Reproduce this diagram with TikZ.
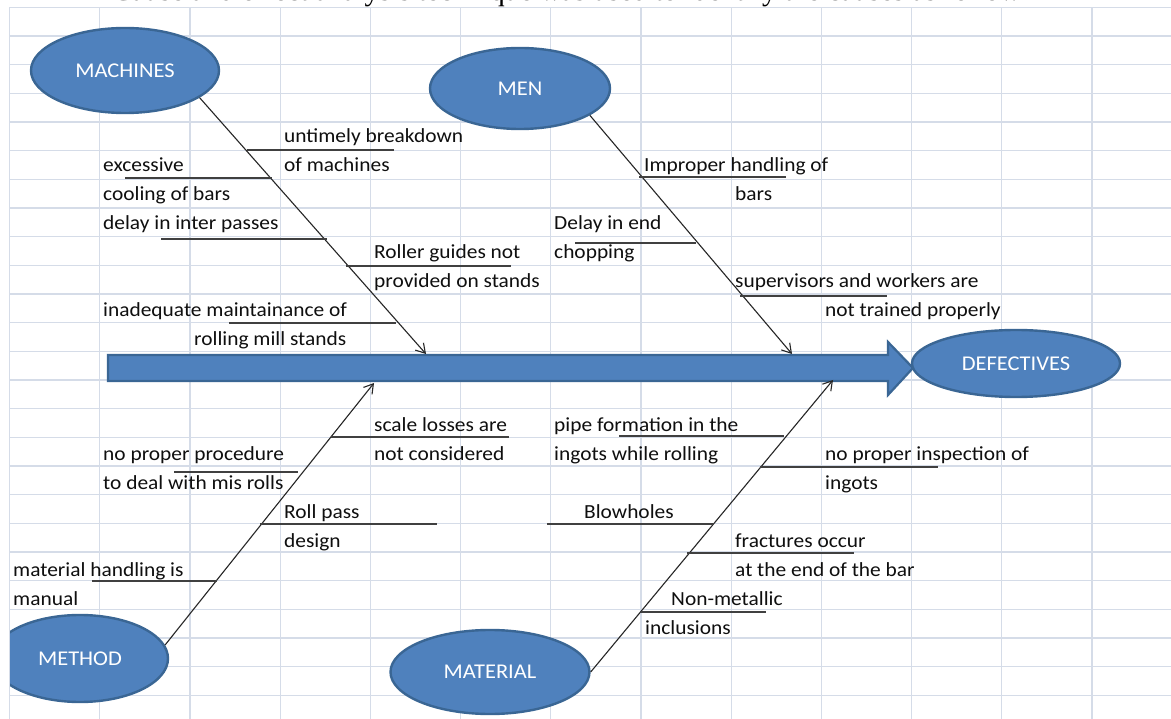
\documentclass[tikz,border=0pt]{standalone}
\usepackage{fontspec}
\usetikzlibrary{shapes.geometric,arrows.meta}
\newfontfamily\lab{Carlito}[FakeStretch=1.07]
\newfontfamily\tms{Liberation Serif}
\definecolor{gridc}{HTML}{D5DCE8}
\definecolor{fillb}{HTML}{4F81BD}
\definecolor{edgeb}{HTML}{3A6694}
\definecolor{branchc}{HTML}{404040}
\definecolor{spinec}{HTML}{262626}
\definecolor{txtc}{HTML}{0F0F0F}
\begin{document}
\begin{tikzpicture}[x=1pt,y=-1pt,
  cause/.style={ellipse,draw=edgeb,line width=2.4pt,fill=fillb,text=white,inner sep=0pt,font=\lab\fontsize{21}{25}\selectfont},
  lbl/.style={anchor=base west,inner sep=0pt,text=txtc,font=\lab\fontsize{20}{24}\selectfont},
  spine/.style={draw=spinec,line width=1.1pt,-{Straight Barb[length=9pt,width=11pt]}},
  branch/.style={draw=branchc,line width=1.5pt},
  gridl/.style={draw=gridc,line width=1.2pt}]
\useasboundingbox (0,0) rectangle (1171,719);
\fill[white] (0,0) rectangle (1171,719);
% spreadsheet grid
\foreach \i in {0,...,12} \draw[gridl] ({9.5+90.2*\i},7.3) -- ({9.5+90.2*\i},719);
\foreach \j in {0,...,24} \draw[gridl] (9.5,{7.3+28.67*\j}) -- (1171,{7.3+28.67*\j});
% cut-off heading (only its lowest part lies inside the picture)
\node[anchor=base west,inner sep=0pt,font=\tms\fontsize{29.5}{31}\selectfont] (title) at (112,0.8) {Cause and effect analysis technique was used to identify the causes as follow};
% main arrow
\coordinate (a1) at (108,355);
\coordinate (a2) at (888,355);
\coordinate (a3) at (888,342);
\coordinate (a4) at (913,368);
\coordinate (a5) at (888,395);
\coordinate (a6) at (888,381);
\coordinate (a7) at (108,381);
\draw[fill=fillb,draw=edgeb,line width=2.2pt,line join=miter] (a1) -- (a2) -- (a3) -- (a4) -- (a5) -- (a6) -- (a7) -- cycle;
% cause ellipses
\node[cause,minimum width=188pt,minimum height=85pt] (mach) at (125,70.5) {MACHINES};
\node[cause,minimum width=180pt,minimum height=81pt] (men) at (520,88.5) {MEN};
\node[cause,minimum width=208pt,minimum height=67pt] (def) at (1016,363.5) {DEFECTIVES};
\node[cause,minimum width=199pt,minimum height=84pt] (mat) at (490,672) {MATERIAL};
\begin{scope}
\clip (10,0) rectangle (1171,719);
\node[cause,minimum width=176pt,minimum height=87pt] (meth) at (80,658.5) {METHOD};
\end{scope}
% spine end points on the main arrow
\coordinate (tmach) at (426,354);
\coordinate (tmen) at (792,354);
\coordinate (tmeth) at (374,383);
\coordinate (tmat) at (833,380);
\draw[spine] (mach.-20) -- (tmach);
\draw[spine] (men.-21) -- (tmen);
\draw[spine] (meth.9) -- (tmeth);
\draw[spine] (mat.east) -- (tmat);
% branch lines
\foreach \y/\xa/\xb in {150/247/394, 178/125/272, 239/161/327, 266/346/511, 323/229/396,
  177/639/786, 243/575/696, 296/740/887,
  437/331/509, 472/174/298, 524/260/437, 581/92/217,
  436/619/784, 467/760/938, 524/547/714, 553/687/854, 612/641/766}
  \draw[branch] (\xa,\y) -- (\xb,\y);
% labels: machines
\node[lbl] (m1a) at (284,142.7) {untimely breakdown};
\node[lbl] (m1b) at (284,171.6) {of machines};
\node[lbl] (m2a) at (103,171.6) {excessive};
\node[lbl] (m2b) at (103,200.5) {cooling of bars};
\node[lbl] (m3) at (103,229.4) {delay in inter passes};
\node[lbl] (m4a) at (374,259) {Roller guides not};
\node[lbl] (m4b) at (374,288) {provided on stands};
\node[lbl] (m5a) at (103,316.6) {inadequate maintainance of};
\node[lbl] (m5b) at (194,345.5) {rolling mill stands};
% labels: men
\node[lbl] (n1a) at (644,171.6) {Improper handling of};
\node[lbl] (n1b) at (735,200.5) {bars};
\node[lbl] (n2a) at (554,229.4) {Delay in end};
\node[lbl] (n2b) at (554,259) {chopping};
\node[lbl] (n3a) at (735,288) {supervisors and workers are};
\node[lbl] (n3b) at (825,316.6) {not trained properly};
% labels: method
\node[lbl] (d1a) at (374,431.7) {scale losses are};
\node[lbl] (d1b) at (374,460.6) {not considered};
\node[lbl] (d2a) at (103,460.6) {no proper procedure};
\node[lbl] (d2b) at (103,489.5) {to deal with mis rolls};
\node[lbl] (d3a) at (284,518.4) {Roll pass};
\node[lbl] (d3b) at (284,547.3) {design};
\node[lbl] (d4a) at (13,576.2) {material handling is};
\node[lbl] (d4b) at (13,605.1) {manual};
% labels: material
\node[lbl] (t1a) at (554,431.7) {pipe formation in the};
\node[lbl] (t1b) at (554,460.6) {ingots while rolling};
\node[lbl] (t2a) at (825,460.6) {no proper inspection of};
\node[lbl] (t2b) at (825,489.5) {ingots};
\node[lbl] (t3) at (584,518.4) {Blowholes};
\node[lbl] (t4a) at (735,547.3) {fractures occur};
\node[lbl] (t4b) at (735,576.2) {at the end of the bar};
\node[lbl] (t5a) at (671,605.1) {Non-metallic};
\node[lbl] (t5b) at (645,634) {inclusions};
\end{tikzpicture}
\end{document}
